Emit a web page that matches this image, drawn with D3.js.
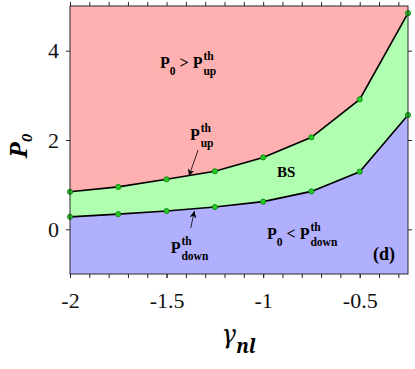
<!DOCTYPE html>
<html><head><meta charset="utf-8">
<script src="https://cdn.jsdelivr.net/npm/d3@7"></script>
<style>body{margin:0;background:#fff} svg{display:block}</style>
</head><body><svg width="415" height="369"></svg>
<script>
// threshold powers vs gamma_nl
const gammaNl = [-2, -1.75, -1.5, -1.25, -1, -0.75, -0.5, -0.25]
const pUp = [0.84, 0.95, 1.12, 1.30, 1.61, 2.06, 2.91, 4.84]
const pDown = [0.28, 0.34, 0.41, 0.50, 0.62, 0.85, 1.29, 2.56]
const xTickVals = [-2, -1.5, -1, -0.5]
const yTickVals = [0, 2, 4]

const ff = 'Liberation Serif'
const ffi = 'Noto Serif'
const svg = d3.select('svg')
const x = d3.scaleLinear().domain([-2, -0.25]).range([70, 408])
const y = d3.scaleLinear().domain([-1, 5]).range([274, 6])
const pts = gammaNl.map((g, i) => ({ g, up: pUp[i], down: pDown[i] }))

// regions
svg.append('rect').attr('x', x(-2)).attr('y', y(5))
  .attr('width', x(-0.25) - x(-2)).attr('height', y(-1) - y(5))
  .attr('fill', '#ffb0b0')
svg.append('path').datum(pts).attr('fill', '#b0ffb0')
  .attr('d', d3.area().x(d => x(d.g)).y0(d => y(d.down)).y1(d => y(d.up)))
svg.append('path').datum(pts).attr('fill', '#b0b0ff')
  .attr('d', d3.area().x(d => x(d.g)).y0(y(-1)).y1(d => y(d.down)))

// curves
const line = key => d3.line().x(d => x(d.g)).y(d => y(d[key]))
;['up', 'down'].forEach(k => {
  svg.append('path').datum(pts).attr('fill', 'none').attr('stroke', '#000')
    .attr('stroke-width', 1.6).attr('d', line(k))
  svg.append('g').selectAll('circle').data(pts).enter().append('circle')
    .attr('cx', d => x(d.g)).attr('cy', d => y(d[k])).attr('r', 2.6)
    .attr('fill', '#22cc22').attr('stroke', '#0a7a0a').attr('stroke-width', 0.8)
})

// axes
const styleAxis = g => {
  g.attr('font-family', null).attr('font-size', null)
  g.select('.domain').remove()
  g.selectAll('line').attr('stroke', '#262626')
  g.selectAll('text').style('font-family', ff).style('font-size', '22px').attr('fill', '#111')
}
svg.append('g').attr('transform', `translate(0,${y(-1)})`)
  .call(d3.axisBottom(x).ticks(20).tickFormat('').tickSize(4)).call(styleAxis)
svg.append('g').attr('transform', `translate(0,${y(5)})`)
  .call(d3.axisTop(x).ticks(20).tickFormat('').tickSize(4)).call(styleAxis)
svg.append('g').attr('transform', `translate(0,${y(-1)})`)
  .call(d3.axisBottom(x).tickValues(xTickVals).tickFormat(d => String(d)).tickSize(4).tickPadding(14))
  .call(styleAxis)
svg.append('g').attr('transform', `translate(${x(-2)},0)`)
  .call(d3.axisLeft(y).tickValues(yTickVals).tickFormat(d3.format('d')).tickSize(4).tickPadding(7))
  .call(styleAxis)
svg.append('g').attr('transform', `translate(${x(-0.25)},0)`)
  .call(d3.axisRight(y).tickValues(yTickVals).tickFormat('').tickSize(4))
  .call(styleAxis)
svg.append('rect').attr('x', x(-2)).attr('y', y(5))
  .attr('width', x(-0.25) - x(-2)).attr('height', y(-1) - y(5))
  .attr('fill', 'none').attr('stroke', '#262626').attr('stroke-width', 1)

// axis titles
const xt = svg.append('text').attr('x', 222).attr('y', 343)
xt.append('tspan').style('font-family', ffi).style('font-style', 'italic').style('font-size', '26px').text('γ')
xt.append('tspan').style('font-family', ffi).style('font-style', 'italic').style('font-weight', 'bold')
  .style('font-size', '19px').attr('dy', 10).text('nl')
const yt = svg.append('text').attr('transform', 'translate(27,158) rotate(-90)')
yt.append('tspan').style('font-family', ffi).style('font-style', 'italic').style('font-weight', 'bold')
  .style('font-size', '24px').text('P')
yt.append('tspan').style('font-family', ffi).style('font-style', 'italic').style('font-weight', 'bold')
  .style('font-size', '14px').attr('dy', 5).text('0')

// annotations
function mathLabel(gx, py, parts, size = 16) {
  const g = svg.append('g').attr('fill', '#000')
  let cx = x(gx)
  const y0 = y(py)
  const small = (size * 0.72) + 'px'
  const txt = (tx, ty, fs, s) => g.append('text').attr('x', tx).attr('y', ty)
    .style('font-family', ff).style('font-weight', 'bold').style('font-size', fs)
    .style('white-space', 'pre').text(s)
  parts.forEach(p => {
    if (p.sup !== undefined) {
      const a = txt(cx + 1, y0 - 8, small, p.sup)
      const b = txt(cx + 1, y0 + 7, small, p.sub)
      cx += 1 + Math.max(a.node().getComputedTextLength(), b.node().getComputedTextLength())
    } else if (p.sub !== undefined) {
      cx += txt(cx, y0 + 7, small, p.sub).node().getComputedTextLength()
    } else {
      cx += txt(cx, y0, size + 'px', p.t).node().getComputedTextLength()
    }
  })
}
mathLabel(-1.534, 3.605, [{ t: 'P' }, { sub: '0' }, { t: ' > ' }, { t: 'P' }, { sup: 'th', sub: 'up' }])
mathLabel(-1.379, 2.0, [{ t: 'P' }, { sup: 'th', sub: 'up' }])
mathLabel(-1.479, -0.53, [{ t: 'P' }, { sup: 'th', sub: 'down' }])
mathLabel(-0.98, -0.216, [{ t: 'P' }, { sub: '0' }, { t: ' < ' }, { t: 'P' }, { sup: 'th', sub: 'down' }])
mathLabel(-0.928, 1.171, [{ t: 'BS' }], 15)
mathLabel(-0.431, -0.687, [{ t: '(d)' }], 18)

svg.append('defs').append('marker').attr('id', 'ah')
  .attr('viewBox', '0 0 10 10').attr('refX', 10).attr('refY', 5)
  .attr('markerWidth', 7).attr('markerHeight', 7).attr('markerUnits', 'userSpaceOnUse')
  .attr('orient', 'auto')
  .append('path').attr('d', 'M0,0L10,5L0,10L3,5Z').attr('fill', '#000')
const arrows = [
  { from: [-1.337, 1.776], to: [-1.384, 1.194] },
  { from: [-1.375, 0.03], to: [-1.356, 0.41] }
]
svg.selectAll('.arr').data(arrows).enter().append('line')
  .attr('x1', d => x(d.from[0])).attr('y1', d => y(d.from[1]))
  .attr('x2', d => x(d.to[0])).attr('y2', d => y(d.to[1]))
  .attr('stroke', '#000').attr('stroke-width', 0.8).attr('marker-end', 'url(#ah)')
</script>
</body></html>
